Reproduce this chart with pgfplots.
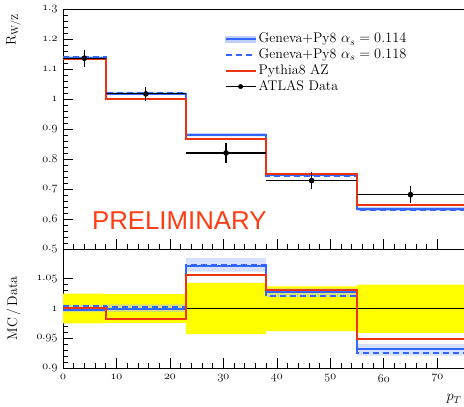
\documentclass[border=0pt]{standalone}
\usepackage{fontspec}
\newfontfamily\prelimfont{Liberation Sans}
\usepackage{pgfplots}
\usepackage{pgfplotstable}
\pgfplotsset{compat=1.18}
\usepgfplotslibrary{fillbetween}

\definecolor{genblue}{RGB}{51,102,255}
\definecolor{bandblue}{RGB}{192,207,252}
\definecolor{pyred}{RGB}{238,51,17}
\definecolor{datayellow}{RGB}{255,255,0}
\definecolor{prelim}{RGB}{255,60,20}

% Histograms: value of each bin at its left edge, last row closes the final bin
\pgfplotstableread{
edge  g114  g114lo g114hi g118  py8
0     1.136 1.131  1.142  1.141 1.134
8     1.018 1.013  1.024  1.021 1.000
23    0.880 0.875  0.886  0.881 0.868
38    0.748 0.743  0.753  0.744 0.751
55    0.634 0.626  0.640  0.630 0.646
75    0.634 0.626  0.640  0.630 0.646
}\mainhist

\pgfplotstableread{
x    xerr  y     yerr
4    4     1.136 0.028
15.5 7.5   1.017 0.024
30.5 7.5   0.820 0.033
46.5 8.5   0.728 0.027
65   10    0.681 0.028
}\atlasdata

\pgfplotstableread{
edge  g114  g114lo g114hi g118  py8   dlo   dhi
0     0.998 0.994  1.006  1.004 1.001 0.975 1.025
8     0.999 0.994  1.007  1.003 0.983 0.976 1.024
23    1.072 1.062  1.085  1.073 1.057 0.957 1.043
38    1.027 1.019  1.034  1.021 1.031 0.962 1.037
55    0.932 0.921  0.940  0.925 0.949 0.959 1.040
75    0.932 0.921  0.940  0.925 0.949 0.959 1.040
}\ratiohist

\pgfplotsset{
  panel/.style={
    scale only axis,
    width=401pt,
    xmin=0, xmax=75,
    axis x line*=box, axis y line*=left,
    xtick pos=bottom, ytick pos=left,
    tick align=inside,
    major tick length=10pt, minor tick length=5pt,
    xtick={0,10,...,70}, minor x tick num=4,
    minor y tick num=4,
    axis line style={line width=0.9pt, black},
    every tick/.style={black, line width=0.7pt},
    tick label style={font=\fontsize{13}{15}\selectfont},
    yticklabel={$\mathnormal{\pgfmathprintnumber{\tick}}$},
    yticklabel style={xshift=-2pt},
    label style={font=\fontsize{14}{16}\selectfont},
  },
}

\begin{document}
\begin{tikzpicture}
\begin{axis}[panel, name=top,
  height=240pt,
  ymin=0.5, ymax=1.3,
  ytick={0.5,0.6,...,1.31},
  xticklabels={},
  ylabel={R$_{\mathrm{W/Z}}$},
  ylabel style={at={(ticklabel cs:0.915,15pt)}, anchor=south},
  legend style={at={(rel axis cs:0.395,0.917)}, anchor=north west,
    draw=none, fill=none, font=\fontsize{14}{17}\selectfont,
    row sep=0.5pt},
  legend cell align=left,
]
\addlegendimage{legend image code/.code={
  \fill[bandblue] (0pt,-3pt) rectangle (30pt,3pt);
  \draw[genblue,line width=2pt] (0pt,0pt) -- (30pt,0pt);}}
\addlegendentry{Geneva+Py8 $\alpha_s = 0.114$}
\addlegendimage{legend image code/.code={
  \draw[genblue,line width=2pt,dash pattern=on 6pt off 4pt] (0pt,0pt) -- (30pt,0pt);}}
\addlegendentry{Geneva+Py8 $\alpha_s = 0.118$}
\addlegendimage{legend image code/.code={
  \draw[pyred,line width=2pt] (0pt,0pt) -- (30pt,0pt);}}
\addlegendentry{Pythia8 AZ}
\addlegendimage{legend image code/.code={
  \draw[black,line width=1.2pt] (0pt,0pt) -- (30pt,0pt);
  \fill[black] (15pt,0pt) circle (2.2pt);}}
\addlegendentry{ATLAS Data}

\addplot[const plot, draw=none, name path=ulo, forget plot] table[x=edge, y=g114lo] {\mainhist};
\addplot[const plot, draw=none, name path=uhi, forget plot] table[x=edge, y=g114hi] {\mainhist};
\addplot[bandblue, forget plot] fill between[of=ulo and uhi];

\addplot[const plot, genblue, line width=2pt, forget plot] table[x=edge, y=g114] {\mainhist};
\addplot[const plot, genblue, line width=2pt, dash pattern=on 6pt off 4pt, forget plot] table[x=edge, y=g118] {\mainhist};
\addplot[const plot, pyred, line width=2pt, forget plot] table[x=edge, y=py8] {\mainhist};

\addplot[black, line width=1.2pt, only marks, mark=*, mark size=2.2pt, forget plot,
  error bars/.cd, x dir=both, x explicit, y dir=both, y explicit,
  error mark=none, error bar style={line width=1.2pt, black}]
  table[x=x, y=y, x error=xerr, y error=yerr] {\atlasdata};

\node[anchor=base west, text=prelim, font=\prelimfont\fontsize{25.8}{30}\selectfont, inner sep=0pt]
  at (axis cs:5.4,0.566) {PRELIMINARY};
\end{axis}

\begin{axis}[panel, name=bot,
  at={(top.south west)}, anchor=north west,
  height=119pt,
  ymin=0.9, ymax=1.1,
  ytick={0.9,0.95,1,1.05},
  xticklabel={$\mathnormal{\pgfmathprintnumber{\tick}}$},
  xticklabel style={yshift=-3pt},
  ylabel={MC\,/\,Data},
  ylabel style={at={(ticklabel cs:0.5,9pt)}, anchor=south},
  xlabel={$p_T$},
  xlabel style={at={(rel axis cs:1,0)}, anchor=base east, yshift=-33pt, xshift=1pt},
]
\addplot[const plot, draw=none, name path=dlo] table[x=edge, y=dlo] {\ratiohist};
\addplot[const plot, draw=none, name path=dhi] table[x=edge, y=dhi] {\ratiohist};
\addplot[datayellow] fill between[of=dlo and dhi];

\addplot[const plot, draw=none, name path=rlo] table[x=edge, y=g114lo] {\ratiohist};
\addplot[const plot, draw=none, name path=rhi] table[x=edge, y=g114hi] {\ratiohist};
\addplot[fill=genblue!45, fill opacity=0.45] fill between[of=rlo and rhi];

\addplot[black, line width=1pt] coordinates {(0,1) (75,1)};

\addplot[const plot, genblue, line width=2pt] table[x=edge, y=g114] {\ratiohist};
\addplot[const plot, genblue, line width=2pt, dash pattern=on 6pt off 4pt] table[x=edge, y=g118] {\ratiohist};
\addplot[const plot, pyred, line width=2pt] table[x=edge, y=py8] {\ratiohist};
\end{axis}

\pgfresetboundingbox
\path[use as bounding box] ([xshift=-63pt,yshift=9pt]top.north west) rectangle ([yshift=-39pt]bot.south east);
\end{tikzpicture}
\end{document}
